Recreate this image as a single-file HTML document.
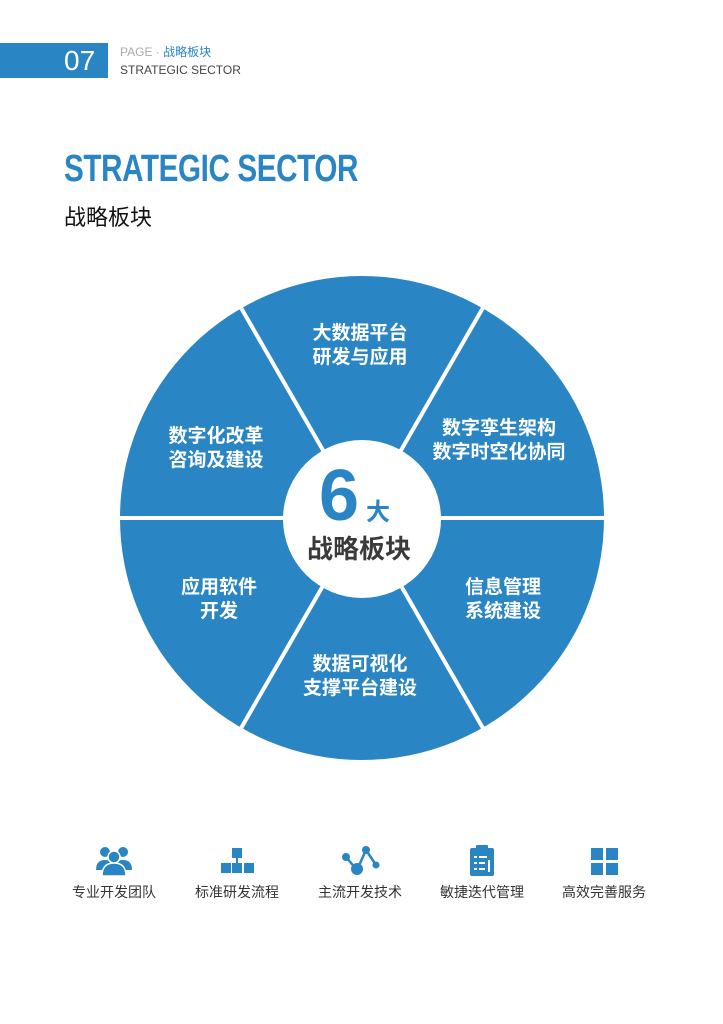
<!DOCTYPE html>
<html><head><meta charset="utf-8"><style>
body{margin:0;width:723px;height:1024px;background:#fff;position:relative;overflow:hidden;font-family:"Liberation Sans","Noto Sans CJK SC",sans-serif}
.a{position:absolute;white-space:nowrap}
.w{color:#fff;font-weight:bold;font-size:19px;text-align:center;transform:translateX(-50%);line-height:24px}
.lab{font-size:14px;color:#333;transform:translateX(-50%);top:882px}
</style></head><body>
<div class="a" style="left:0;top:43px;width:108px;height:35px;background:#2a85c4"></div>
<div class="a" style="left:64px;top:44px;font-size:28px;color:#fff;line-height:34px">07</div>
<div class="a" style="left:120px;top:43px;font-size:12px;color:#aaa">PAGE · <span style="color:#2a85c4">战略板块</span></div>
<div class="a" style="left:120px;top:63px;font-size:12px;color:#444">STRATEGIC SECTOR</div>
<div class="a" style="left:64px;top:148px;font-size:38px;font-weight:bold;color:#2a85c4;transform:scaleX(0.78);transform-origin:left;letter-spacing:-0.5px">STRATEGIC SECTOR</div>
<div class="a" style="left:64px;top:200px;font-size:22px;color:#111">战略板块</div>
<svg class="a" style="left:0;top:0" width="723" height="1024">
<circle cx="362" cy="518" r="242" fill="#2a85c4"/>
<g stroke="#fff" stroke-width="4">
<line x1="362" y1="518" x2="606" y2="518"/><line x1="362" y1="518" x2="118" y2="518"/>
<line x1="362" y1="518" x2="484" y2="306"/><line x1="362" y1="518" x2="240" y2="306"/>
<line x1="362" y1="518" x2="484" y2="730"/><line x1="362" y1="518" x2="240" y2="730"/>
</g>
<circle cx="362" cy="519" r="79" fill="#fff"/>
</svg>
<div class="a" style="left:319px;top:458px;font-size:72px;font-weight:bold;color:#2a85c4;line-height:76px">6</div>
<div class="a" style="left:366px;top:492px;font-size:24px;font-weight:bold;color:#2a85c4">大</div>
<div class="a" style="left:307px;top:529px;font-size:26px;font-weight:bold;color:#3a3a3a">战略板块</div>
<div class="a w" style="left:360px;top:322px">大数据平台<br>研发与应用</div>
<div class="a w" style="left:499px;top:417px">数字孪生架构<br>数字时空化协同</div>
<div class="a w" style="left:503px;top:576px">信息管理<br>系统建设</div>
<div class="a w" style="left:360px;top:653px">数据可视化<br>支撑平台建设</div>
<div class="a w" style="left:219px;top:576px">应用软件<br>开发</div>
<div class="a w" style="left:216px;top:425px">数字化改革<br>咨询及建设</div>
<svg class="a" style="left:0;top:0" width="723" height="1024" fill="#2a85c4">
<circle cx="105" cy="852" r="5"/><circle cx="123" cy="852" r="5"/><path d="M96 870q0-10 9-10q9 0 9 10z M114 870q0-10 9-10q9 0 9 10z"/>
<circle cx="114" cy="857" r="6" stroke="#fff" stroke-width="1.5"/><path d="M102 876q0-13 12-13q12 0 12 13z" stroke="#fff" stroke-width="1.5"/>
<rect x="232" y="848" width="10" height="10"/><rect x="221" y="863" width="10" height="10"/><rect x="232" y="863" width="10" height="10"/><rect x="244" y="863" width="10" height="10"/><rect x="236" y="856" width="2" height="8"/>
<g stroke="#2a85c4" stroke-width="2.5" fill="none"><polyline points="346,857 357,870 366,850 376,865"/></g>
<circle cx="346" cy="857" r="4"/><circle cx="357" cy="869" r="6"/><circle cx="366" cy="850" r="4"/><circle cx="376" cy="865" r="3.5"/>
<rect x="470" y="848" width="24" height="28" rx="2"/><rect x="476" y="845" width="12" height="5" rx="1"/>
<g fill="#fff"><rect x="474" y="856" width="3" height="2"/><rect x="479" y="856" width="8" height="2"/><rect x="474" y="862" width="3" height="2"/><rect x="479" y="862" width="6" height="2"/><rect x="474" y="868" width="3" height="2"/><rect x="479" y="868" width="6" height="2"/><rect x="488" y="860" width="2" height="12"/></g>
<rect x="591" y="848" width="12" height="12"/><rect x="606" y="848" width="12" height="12"/><rect x="591" y="863" width="12" height="12"/><rect x="606" y="863" width="12" height="12"/>
</svg>
<div class="a lab" style="left:114px">专业开发团队</div>
<div class="a lab" style="left:237px">标准研发流程</div>
<div class="a lab" style="left:360px">主流开发技术</div>
<div class="a lab" style="left:482px">敏捷迭代管理</div>
<div class="a lab" style="left:604px">高效完善服务</div>
</body></html>
